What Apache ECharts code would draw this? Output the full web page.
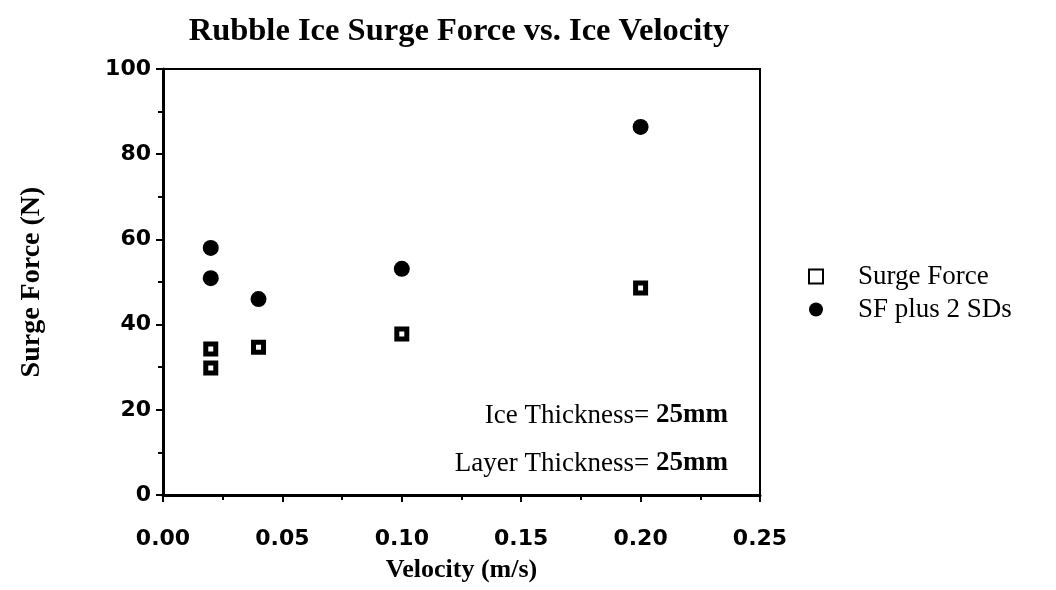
<!DOCTYPE html>
<html>
<head>
<meta charset="utf-8">
<script src="https://cdn.jsdelivr.net/npm/echarts@6/dist/echarts.min.js"></script>
<style>html,body{margin:0;padding:0;background:#fff}#c{width:1056px;height:590px}</style>
</head>
<body>
<div id="c"></div>
<script>
// Measured surge forces (N) at each ice velocity (m/s)
const surgeVelocity = [0.02, 0.02, 0.04, 0.10, 0.20];
const surgeForce = [34.3, 29.8, 34.7, 37.8, 48.6];
// Surge force plus two standard deviations
const sdVelocity = [0.02, 0.02, 0.04, 0.10, 0.20];
const sdForce = [58.0, 50.9, 46.0, 53.1, 86.4];
const xTicks = ['0.00', '0.05', '0.10', '0.15', '0.20', '0.25'];
const notes = [['Ice Thickness=', ' 25mm'], ['Layer Thickness=', ' 25mm']];

const serif = '"Liberation Serif", "DejaVu Serif", serif';
const sans = '"DejaVu Sans", "Liberation Sans", sans-serif';

function noteText(parts, top) {
  return {
    type: 'text', right: 328, top: top,
    style: {
      text: '{a|' + parts[0] + '}{b|' + parts[1] + '}',
      rich: {
        a: { fontFamily: serif, fontSize: 27, fill: '#000' },
        b: { fontFamily: serif, fontSize: 27, fontWeight: 'bold', fill: '#000' }
      }
    }
  };
}

const chart = echarts.init(document.getElementById('c'));
chart.setOption({
  backgroundColor: '#fff',
  animation: false,
  title: {
    text: 'Rubble Ice Surge Force vs. Ice Velocity',
    left: 454, top: 10, textAlign: 'center',
    textStyle: { fontFamily: serif, fontWeight: 'bold', fontSize: 32.5, color: '#000' }
  },
  grid: {
    left: 163, right: 296, top: 69, bottom: 95,
    outerBoundsMode: 'none', containLabel: false,
    show: true, borderColor: '#000', borderWidth: 2, backgroundColor: 'transparent'
  },
  legend: {
    orient: 'vertical', left: 803, top: 258, itemGap: 6,
    itemWidth: 14, itemHeight: 14,
    textStyle: { fontFamily: serif, fontSize: 27, color: '#000', padding: [0, 0, 0, 30] },
    data: [
      { name: 'Surge Force', icon: 'rect', itemStyle: { color: '#fff', borderColor: '#000', borderWidth: 2 } },
      { name: 'SF plus 2 SDs', icon: 'circle', itemStyle: { color: '#000', borderWidth: 0 } }
    ]
  },
  xAxis: {
    type: 'value', min: 0, max: 0.25, interval: 0.05,
    name: 'Velocity (m/s)', nameLocation: 'middle', nameGap: 62,
    nameTextStyle: { fontFamily: serif, fontWeight: 'bold', fontSize: 26, color: '#000' },
    axisLine: { show: true, lineStyle: { color: '#000', width: 3 } },
    axisTick: { show: true, inside: false, length: 7, lineStyle: { color: '#000', width: 2 } },
    minorTick: { show: true, splitNumber: 2, length: 5, lineStyle: { color: '#000', width: 2 } },
    splitLine: { show: false },
    axisLabel: {
      margin: 33, fontFamily: sans, fontWeight: 'bold', fontSize: 22, color: '#000',
      formatter: v => xTicks[Math.round(v / 0.05)]
    }
  },
  yAxis: {
    type: 'value', min: 0, max: 100, interval: 20,
    name: 'Surge Force (N)', nameLocation: 'middle', nameGap: 117, nameRotate: 90,
    nameTextStyle: { fontFamily: serif, fontWeight: 'bold', fontSize: 28, color: '#000' },
    axisLine: { show: true, lineStyle: { color: '#000', width: 3 } },
    axisTick: { show: true, inside: false, length: 7, lineStyle: { color: '#000', width: 2 } },
    minorTick: { show: true, splitNumber: 2, length: 5, lineStyle: { color: '#000', width: 2 } },
    splitLine: { show: false },
    axisLabel: { margin: 12, fontFamily: sans, fontWeight: 'bold', fontSize: 22, color: '#000' }
  },
  series: [
    {
      name: 'Surge Force', type: 'scatter', symbol: 'rect', symbolSize: 10,
      itemStyle: { color: '#fff', borderColor: '#000', borderWidth: 5, opacity: 1 },
      data: surgeVelocity.map((v, i) => [v, surgeForce[i]]),
      z: 3
    },
    {
      name: 'SF plus 2 SDs', type: 'scatter', symbol: 'circle', symbolSize: 16,
      itemStyle: { color: '#000', opacity: 1 },
      data: sdVelocity.map((v, i) => [v, sdForce[i]]),
      z: 3
    }
  ],
  graphic: [noteText(notes[0], 402), noteText(notes[1], 450)]
});
</script>
</body>
</html>
